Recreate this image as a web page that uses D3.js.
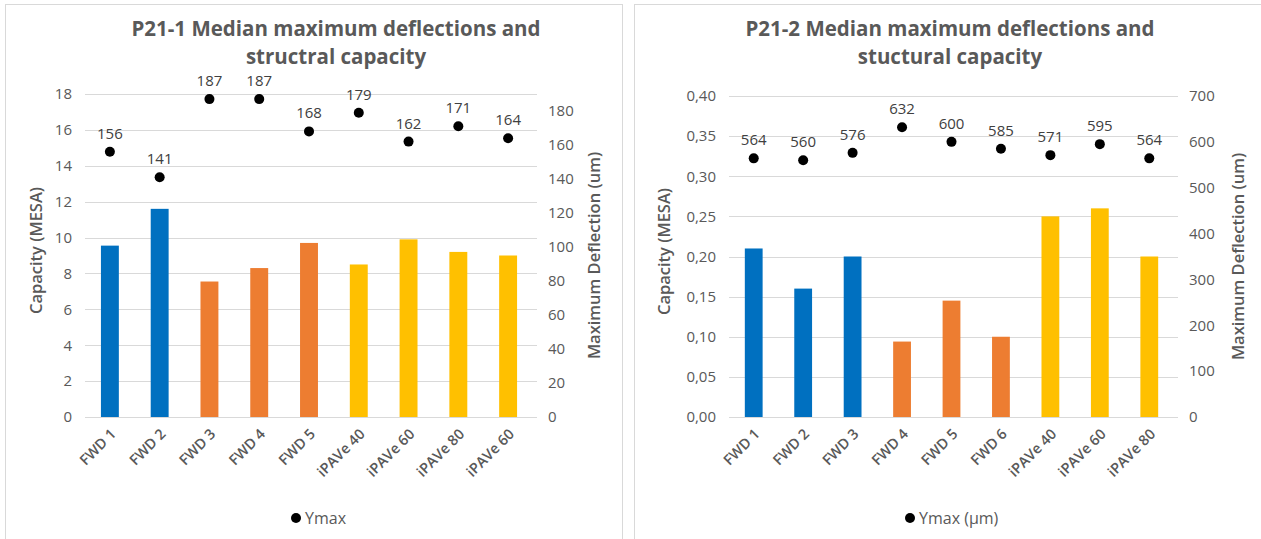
<!DOCTYPE html>
<html>
<head>
<meta charset="utf-8">
<script src="https://cdn.jsdelivr.net/npm/d3@7"></script>
<style>
  html, body { margin: 0; padding: 0; background: #fff; }
  svg { display: block; font-family: "Open Sans", "Noto Sans", sans-serif; }
</style>
</head>
<body>
<svg id="chart" width="1261" height="539"></svg>
<script>
// ---- P21-1 ----
const cats1 = ["FWD 1", "FWD 2", "FWD 3", "FWD 4", "FWD 5", "iPAVe 40", "iPAVe 60", "iPAVe 80", "iPAVe 60"];
const capacity1 = [9.55, 11.6, 7.55, 8.3, 9.7, 8.5, 9.9, 9.2, 9.0];
const ymax1 = [156, 141, 187, 187, 168, 179, 162, 171, 164];
const groups1 = ["FWD", "FWD", "FWD2", "FWD2", "FWD2", "iPAVe", "iPAVe", "iPAVe", "iPAVe"];
const leftTicks1 = [0, 2, 4, 6, 8, 10, 12, 14, 16, 18];
const rightTicks1 = [0, 20, 40, 60, 80, 100, 120, 140, 160, 180];

// ---- P21-2 ----
const cats2 = ["FWD 1", "FWD 2", "FWD 3", "FWD 4", "FWD 5", "FWD 6", "iPAVe 40", "iPAVe 60", "iPAVe 80"];
const capacity2 = [0.21, 0.16, 0.20, 0.094, 0.145, 0.10, 0.25, 0.26, 0.20];
const ymax2 = [564, 560, 576, 632, 600, 585, 571, 595, 564];
const groups2 = ["FWD", "FWD", "FWD", "FWD2", "FWD2", "FWD2", "iPAVe", "iPAVe", "iPAVe"];
const leftTicks2 = [0, 0.05, 0.10, 0.15, 0.20, 0.25, 0.30, 0.35, 0.40];
const rightTicks2 = [0, 100, 200, 300, 400, 500, 600, 700];

const groupColor = { FWD: "#0070C0", FWD2: "#ED7D31", iPAVe: "#FFC000" };

const commaLocale = d3.formatLocale({ decimal: ",", thousands: ".", grouping: [3], currency: ["", ""] });

const svg = d3.select("#chart");

// panel frames
svg.append("rect").attr("x", 5.5).attr("y", 4.5).attr("width", 617).attr("height", 540)
  .attr("fill", "#fff").attr("stroke", "#d9d9d9");
svg.append("rect").attr("x", 634.5).attr("y", 4.5).attr("width", 640).attr("height", 540)
  .attr("fill", "#fff").attr("stroke", "#d9d9d9");

function drawChart(cfg) {
  const g = svg.append("g");
  const x = d3.scaleBand().domain(d3.range(cfg.cats.length))
    .range([cfg.x0, cfg.x1]).paddingInner(0.64).paddingOuter(0.32);
  const yL = d3.scaleLinear().domain(cfg.leftDomain).range([cfg.yBottom, cfg.yTop]);
  const yR = d3.scaleLinear().domain(cfg.rightDomain).range([cfg.yBottom, cfg.yTop]);

  // title
  const title = g.append("text").attr("x", cfg.titleX).attr("y", 36)
    .attr("text-anchor", "middle").attr("fill", "#595959")
    .attr("font-weight", 700).attr("font-size", 20.5);
  cfg.title.forEach((line, i) => title.append("tspan")
    .attr("x", cfg.titleX).attr("dy", i === 0 ? 0 : 28).text(line));

  // gridlines
  g.append("g").selectAll("line").data(cfg.leftTicks).join("line")
    .attr("x1", cfg.x0).attr("x2", cfg.x1 + 4)
    .attr("y1", d => Math.round(yL(d)) + 0.5).attr("y2", d => Math.round(yL(d)) + 0.5)
    .attr("stroke", "#d9d9d9").attr("stroke-width", 1);

  // left axis
  const axL = g.append("g").attr("transform", `translate(${cfg.x0 - 8},0)`)
    .call(d3.axisLeft(yL).tickValues(cfg.leftTicks).tickFormat(cfg.leftFormat).tickSize(0).tickPadding(5));
  axL.select(".domain").remove();
  axL.selectAll("text").attr("fill", "#595959").attr("font-size", 15).attr("font-family", "Open Sans");

  // right axis
  const axR = g.append("g").attr("transform", `translate(${cfg.x1 + 12},0)`)
    .call(d3.axisRight(yR).tickValues(cfg.rightTicks).tickFormat(d3.format("d")).tickSize(0).tickPadding(3));
  axR.select(".domain").remove();
  axR.selectAll("text").attr("fill", "#595959").attr("font-size", 15).attr("font-family", "Open Sans");

  // axis titles
  g.append("text").attr("transform", `translate(${cfg.leftTitleX},${(cfg.yTop + cfg.yBottom) / 2 - 5}) rotate(-90)`)
    .attr("text-anchor", "middle").attr("fill", "#595959").attr("font-size", 16.5).attr("font-weight", 600)
    .text("Capacity (MESA)");
  g.append("text").attr("transform", `translate(${cfg.rightTitleX},${(cfg.yTop + cfg.yBottom) / 2}) rotate(-90)`)
    .attr("text-anchor", "middle").attr("fill", "#595959").attr("font-size", 16.5).attr("font-weight", 600)
    .text("Maximum Deflection (um)");

  // bars
  g.append("g").selectAll("rect").data(cfg.capacity).join("rect")
    .attr("x", (d, i) => x(i)).attr("width", x.bandwidth())
    .attr("y", d => yL(d)).attr("height", d => yL(0) - yL(d))
    .attr("fill", (d, i) => groupColor[cfg.groups[i]]);

  // category labels
  g.append("g").selectAll("text").data(cfg.cats).join("text")
    .attr("transform", (d, i) => `translate(${x(i) + x.bandwidth() / 2 + 7},${cfg.yBottom + 18}) rotate(-45)`)
    .attr("text-anchor", "end").attr("fill", "#595959").attr("font-size", 14.5).attr("font-weight", 600)
    .text(d => d);

  // deflection markers
  g.append("g").selectAll("circle").data(cfg.ymax).join("circle")
    .attr("cx", (d, i) => x(i) + x.bandwidth() / 2).attr("cy", d => yR(d))
    .attr("r", 5).attr("fill", "#000");
  g.append("g").selectAll("text").data(cfg.ymax).join("text")
    .attr("x", (d, i) => x(i) + x.bandwidth() / 2).attr("y", d => yR(d) - 13)
    .attr("text-anchor", "middle").attr("fill", "#404040").attr("font-size", 15)
    .text(d => d);

  // legend
  g.append("circle").attr("cx", cfg.legendX).attr("cy", 518).attr("r", 5).attr("fill", "#000");
  g.append("text").attr("x", cfg.legendX + 9).attr("y", 523.5).attr("fill", "#595959")
    .attr("font-size", 16).text(cfg.legendLabel);
}

drawChart({
  cats: cats1, capacity: capacity1, ymax: ymax1, groups: groups1,
  leftTicks: leftTicks1, rightTicks: rightTicks1,
  leftDomain: [0, 18], rightDomain: [0, 190],
  leftFormat: d3.format("d"),
  x0: 85, x1: 533, yTop: 94, yBottom: 417,
  title: ["P21-1 Median maximum deflections and", "structral capacity"], titleX: 336,
  leftTitleX: 42, rightTitleX: 600,
  legendX: 296, legendLabel: "Ymax"
});

drawChart({
  cats: cats2, capacity: capacity2, ymax: ymax2, groups: groups2,
  leftTicks: leftTicks2, rightTicks: rightTicks2,
  leftDomain: [0, 0.40], rightDomain: [0, 700],
  leftFormat: commaLocale.format(".2f"),
  x0: 729, x1: 1174, yTop: 96, yBottom: 417,
  title: ["P21-2 Median maximum deflections and", "stuctural capacity"], titleX: 950,
  leftTitleX: 670, rightTitleX: 1244,
  legendX: 910, legendLabel: "Ymax (µm)"
});
</script>
</body>
</html>
